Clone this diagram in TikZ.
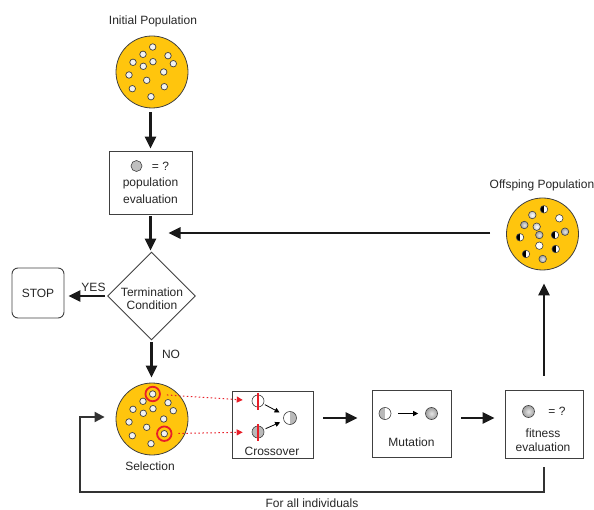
\documentclass[tikz,border=0pt]{standalone}
\usepackage{fontspec}
\setmainfont{Liberation Sans}
\usetikzlibrary{arrows.meta,shapes.geometric,calc}
\definecolor{gold}{RGB}{255,197,13}
\definecolor{ringred}{RGB}{232,30,40}
\definecolor{edge}{RGB}{64,64,64}

\begin{document}
\begin{tikzpicture}[x=1pt,y=-1pt,
  every node/.style={text=black!85},
  txt/.style={font=\fontsize{12}{14}\selectfont,inner sep=0pt},
  pool/.style={circle,draw=edge,fill=gold,line width=0.8pt,minimum size=72pt,inner sep=0pt},
  card/.style={draw=edge,line width=0.9pt,inner sep=0pt,font=\fontsize{12}{14}\selectfont},
  dot/.style={circle,draw=edge,fill=gray!10,line width=0.7pt,minimum size=6.5pt,inner sep=0pt},
  ball/.style={circle,draw=edge,line width=0.6pt,minimum size=#1,inner sep=0pt},
  lefthalf/.style={path picture={\fill[#1] (path picture bounding box.south west) rectangle (path picture bounding box.north);}},
  righthalf/.style={path picture={\fill[#1] (path picture bounding box.north) rectangle (path picture bounding box.south east);}},
  pale/.style={inner color=white,outer color=gray!45},
  grey/.style={inner color=gray!20,outer color=gray!75},
  blank/.style={fill=white},
  split/.style={fill=white,lefthalf=black},
  flow/.style={draw=black!90,line width=2.6pt,-{Triangle[length=12pt,width=11pt]}},
  loopline/.style={draw=black!80,line width=2pt,-{Triangle[length=10pt,width=10pt]}},
  thinflow/.style={draw=black,line width=0.8pt,-{Triangle[length=5pt,width=5pt]}},
  pickup/.style={draw=ringred,line width=1pt,dash pattern=on 1.5pt off 2.5pt,-{Triangle[length=6pt,width=6pt,fill=ringred]}},
  ring/.style={circle,draw=ringred,line width=1.8pt,minimum size=14.5pt,inner sep=0pt},
  cut/.style={draw=ringred,line width=1.1pt},
]
\useasboundingbox (0,0) rectangle (594,510);

% ---- populations ----
\node[pool] (init) at (152,72) {};
\node[pool] (sel) at (152,419) {};
\node[pool] (off) at (542.5,234) {};
\node[txt] (initlbl) at (153,21) {Initial Population};
\node[txt] (sellbl) at (150,466) {Selection};
\node[txt] (offlbl) at (542,185) {Offsping Population};

\foreach \dx/\dy in {0.7/-25, -9/-17.7, 16/-16.3, -19/-9.7, 1/-10.3, -8.7/-5.7,
    21.3/-8.3, 11.7/0, -23/3, -5.3/8.3, 12.3/14.7, -19.7/16.7, -1/24.7}{
  \node[dot] at ($(init)+(\dx,\dy)$) {};
  \node[dot] at ($(sel)+(\dx,\dy)$) {};
}
\node[ring] (pickA) at ($(sel)+(0.7,-25)$) {};
\node[ring] (pickB) at ($(sel)+(12.3,14.7)$) {};

% offspring individuals
\node[ball=7.5pt,pale]  (o1)  at ($(off)+(-10.2,-19)$) {};
\node[ball=7.5pt,split] (o2)  at ($(off)+(1.5,-24.7)$) {};
\node[ball=7.5pt,blank] (o3)  at ($(off)+(16.8,-15.7)$) {};
\node[ball=7.5pt,grey]  (o4)  at ($(off)+(-18.2,-9)$) {};
\node[ball=7.5pt,pale]  (o5)  at ($(off)+(-5.8,-7.3)$) {};
\node[ball=7.5pt,grey]  (o6)  at ($(off)+(-3.2,1)$) {};
\node[ball=7.5pt,split] (o7)  at ($(off)+(-22.5,3.3)$) {};
\node[ball=7.5pt,split] (o8)  at ($(off)+(12.5,1)$) {};
\node[ball=7.5pt,grey]  (o9)  at ($(off)+(22.5,-2.3)$) {};
\node[ball=7.5pt,blank] (o10) at ($(off)+(-3.2,11.7)$) {};
\node[ball=7.5pt,split] (o11) at ($(off)+(13.2,15)$) {};
\node[ball=7.5pt,split] (o12) at ($(off)+(-16.5,20)$) {};
\node[ball=7.5pt,grey]  (o13) at ($(off)+(0.2,25)$) {};

% ---- population evaluation ----
\node[card,minimum width=83pt,minimum height=63pt] (popeval) at (150.5,182.5) {};
\node[ball=11pt,fill=gray!50] (pe) at (136.5,166) {};
\node[txt] (peq) at (160.5,166) {= ?};
\node[txt] (pel1) at (150.5,183) {population};
\node[txt] (pel2) at (150.5,199) {evaluation};

% ---- termination test ----
\node[diamond,draw=edge,line width=0.9pt,minimum width=88pt,minimum height=88pt,inner sep=0pt] (term) at (151.5,296) {};
\node[txt] (tl1) at (152,292.5) {Termination};
\node[txt] (tl2) at (152,305) {Condition};
\node[card,rounded corners=6pt,minimum width=52pt,minimum height=50pt] (stop) at (38,293) {STOP};
\node[txt] (yes) at (93.5,287) {YES};
\node[txt] (no) at (171,354) {NO};

% ---- crossover ----
\node[card,minimum width=81pt,minimum height=67pt] (cross) at (272.5,424.5) {};
\node[ball=12pt,fill=white] (pa) at (258,401) {};
\node[ball=12pt,fill=gray!55] (pb) at (258,432) {};
\node[ball=13pt,fill=white,righthalf=gray!55] (child) at (290,418) {};
\draw[cut] ($(pa)+(0,-8.5)$) -- ($(pa)+(0,9)$);
\draw[cut] ($(pb)+(0,-8)$) -- ($(pb)+(0,8.5)$);
\draw[thinflow,shorten <=1.5pt,shorten >=5pt] (pa) -- (child);
\draw[thinflow,shorten <=2pt,shorten >=4pt] (pb) -- (child);
\node[txt] (crosslbl) at (272,451) {Crossover};
\draw[pickup,shorten <=6pt,shorten >=9pt] (pickA) -- (pa);
\draw[pickup,shorten <=6pt,shorten >=9pt] (pickB) -- (pb);

% ---- mutation ----
\node[card,minimum width=79pt,minimum height=67pt] (mut) at (411.5,423.5) {};
\node[ball=12pt,fill=white,lefthalf=gray!55] (ma) at (385,413.5) {};
\node[ball=12pt,grey] (mb) at (431.5,413.5) {};
\draw[thinflow,shorten <=7pt,shorten >=7pt] (ma) -- (mb);
\node[txt] (mutlbl) at (411.5,442) {Mutation};

% ---- fitness evaluation ----
\node[card,minimum width=78pt,minimum height=68pt] (fit) at (544,424) {};
\node[ball=12pt,grey] (fa) at (528.5,411.5) {};
\node[txt] (feq) at (557,411.5) {= ?};
\node[txt] (fl1) at (543,433.5) {fitness};
\node[txt] (fl2) at (543,447) {evaluation};

% ---- main flow ----
\draw[flow,shorten <=4pt,shorten >=2pt] (popeval.north |- init.south) -- (popeval.north);
\draw[flow,shorten <=2pt,shorten >=1pt] (popeval.south) -- (popeval.south |- term.north);
\draw[flow,shorten <=2pt,shorten >=4pt] (term.west) -- (term.west -| stop.east);
\draw[flow,shorten <=2pt,shorten >=5pt] (term.south) -- (term.south |- sel.north);
\coordinate (merge) at (150.5,233);
\draw[flow,shorten <=16pt,shorten >=18pt] (off.west |- merge) -- (merge);
\coordinate (lane) at (0,418);
\draw[flow,shorten <=10pt,shorten >=14pt] (cross.east |- lane) -- (mut.west |- lane);
\draw[flow,shorten <=10pt,shorten >=10pt] (mut.east |- lane) -- (fit.west |- lane);
\draw[flow,shorten <=14pt,shorten >=13pt] (fit.north) -- (fit.north |- off.south);

% ---- loop over all individuals ----
\coordinate (loopfloor) at (0,492);
\coordinate (entry) at (80,417);
\coordinate (entrytip) at ($(sel.west)+(-11,-2)$);
\draw[loopline] ($(fit.south)+(0,9)$) |- (loopfloor -| entry) -- (entry) -- (entrytip);
\node[txt] (looplbl) at (312,503) {For all individuals};
\end{tikzpicture}
\end{document}
